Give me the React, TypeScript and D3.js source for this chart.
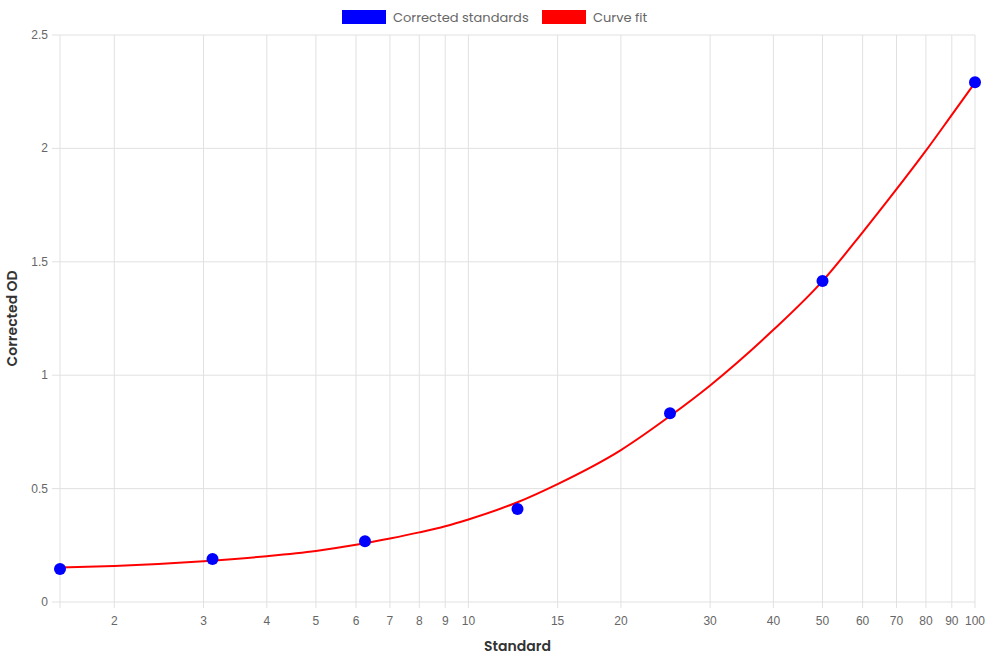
import React from 'react';
import * as d3 from 'd3';

// standards (concentration) and measured corrected OD
const standards = [1.5625, 3.125, 6.25, 12.5, 25, 50, 100];
const correctedOD = [0.146, 0.19, 0.268, 0.41, 0.832, 1.415, 2.292];

// curve fit
const fitX = [1.5625, 2, 3, 4, 5, 6, 7, 8, 9, 10, 12.5, 15, 20, 25, 30, 40, 50, 60, 70, 80, 90, 100];
const fitY = [0.152, 0.159, 0.18, 0.202, 0.225, 0.252, 0.28, 0.307, 0.334, 0.364, 0.44, 0.52, 0.67, 0.82, 0.955, 1.2, 1.415, 1.63, 1.82, 1.99, 2.148, 2.29];

const xTicks = [2, 3, 4, 5, 6, 7, 8, 9, 10, 15, 20, 30, 40, 50, 60, 70, 80, 90, 100];
const yTicks = [0, 0.5, 1, 1.5, 2, 2.5];

const legendItems = [
  { label: 'Corrected standards', color: '#0000ff' },
  { label: 'Curve fit', color: '#ff0000' },
];

export default function App() {
  const width = 990,
    height = 660;
  const left = 60,
    right = 975,
    top = 35,
    bottom = 602;

  const x = d3.scaleLog().domain([1.5625, 100]).range([left, right]);
  const y = d3.scaleLinear().domain([0, 2.5]).range([bottom, top]);

  const line = d3
    .line<number>()
    .x((d, i) => x(fitX[i]))
    .y((d) => y(d))
    .curve(d3.curveMonotoneX);

  const titleFont = 'Poppins, Inter, "Open Sans", sans-serif';
  const tickFont = '"Liberation Sans", Arial, sans-serif';
  const grid = '#e1e1e1';

  return (
    <svg
      width={width}
      height={height}
      style={{ position: 'absolute', left: 0, top: 0, background: '#fff' }}
    >
      {/* legend */}
      <g>
        <rect x={342} y={10} width={44} height={14} fill={legendItems[0].color} />
        <text x={393} y={21.5} fontFamily={titleFont} fontSize={13} fill="#666">
          {legendItems[0].label}
        </text>
        <rect x={542} y={10} width={44} height={14} fill={legendItems[1].color} />
        <text x={593} y={21.5} fontFamily={titleFont} fontSize={13} fill="#666">
          {legendItems[1].label}
        </text>
      </g>

      {/* horizontal grid */}
      {yTicks.map((t) => (
        <g key={'y' + t}>
          <line x1={left - 8} x2={right} y1={y(t)} y2={y(t)} stroke={grid} strokeWidth={1} />
          <text
            x={left - 12}
            y={y(t) + 4}
            textAnchor="end"
            fontFamily={tickFont}
            fontSize={12}
            fill="#666"
          >
            {t}
          </text>
        </g>
      ))}

      {/* vertical grid */}
      <line x1={left} x2={left} y1={top} y2={bottom + 6} stroke={grid} strokeWidth={1} />
      {xTicks.map((t) => (
        <g key={'x' + t}>
          <line x1={x(t)} x2={x(t)} y1={top} y2={bottom + 6} stroke={grid} strokeWidth={1} />
          <text
            x={x(t)}
            y={bottom + 23}
            textAnchor="middle"
            fontFamily={tickFont}
            fontSize={12}
            fill="#666"
          >
            {t}
          </text>
        </g>
      ))}

      {/* axis titles */}
      <text
        x={(left + right) / 2}
        y={651}
        textAnchor="middle"
        fontFamily={titleFont}
        fontWeight={600}
        fontSize={14}
        fill="#333"
      >
        Standard
      </text>
      <text
        transform={`translate(17, ${(top + bottom) / 2}) rotate(-90)`}
        textAnchor="middle"
        fontFamily={titleFont}
        fontWeight={600}
        fontSize={14}
        fill="#333"
      >
        Corrected OD
      </text>

      {/* curve fit */}
      <path d={line(fitY) || ''} fill="none" stroke="#ff0000" strokeWidth={2} />

      {/* points */}
      {standards.map((s, i) => (
        <circle key={s} cx={x(s)} cy={y(correctedOD[i])} r={6} fill="#0000ff" />
      ))}
    </svg>
  );
}
